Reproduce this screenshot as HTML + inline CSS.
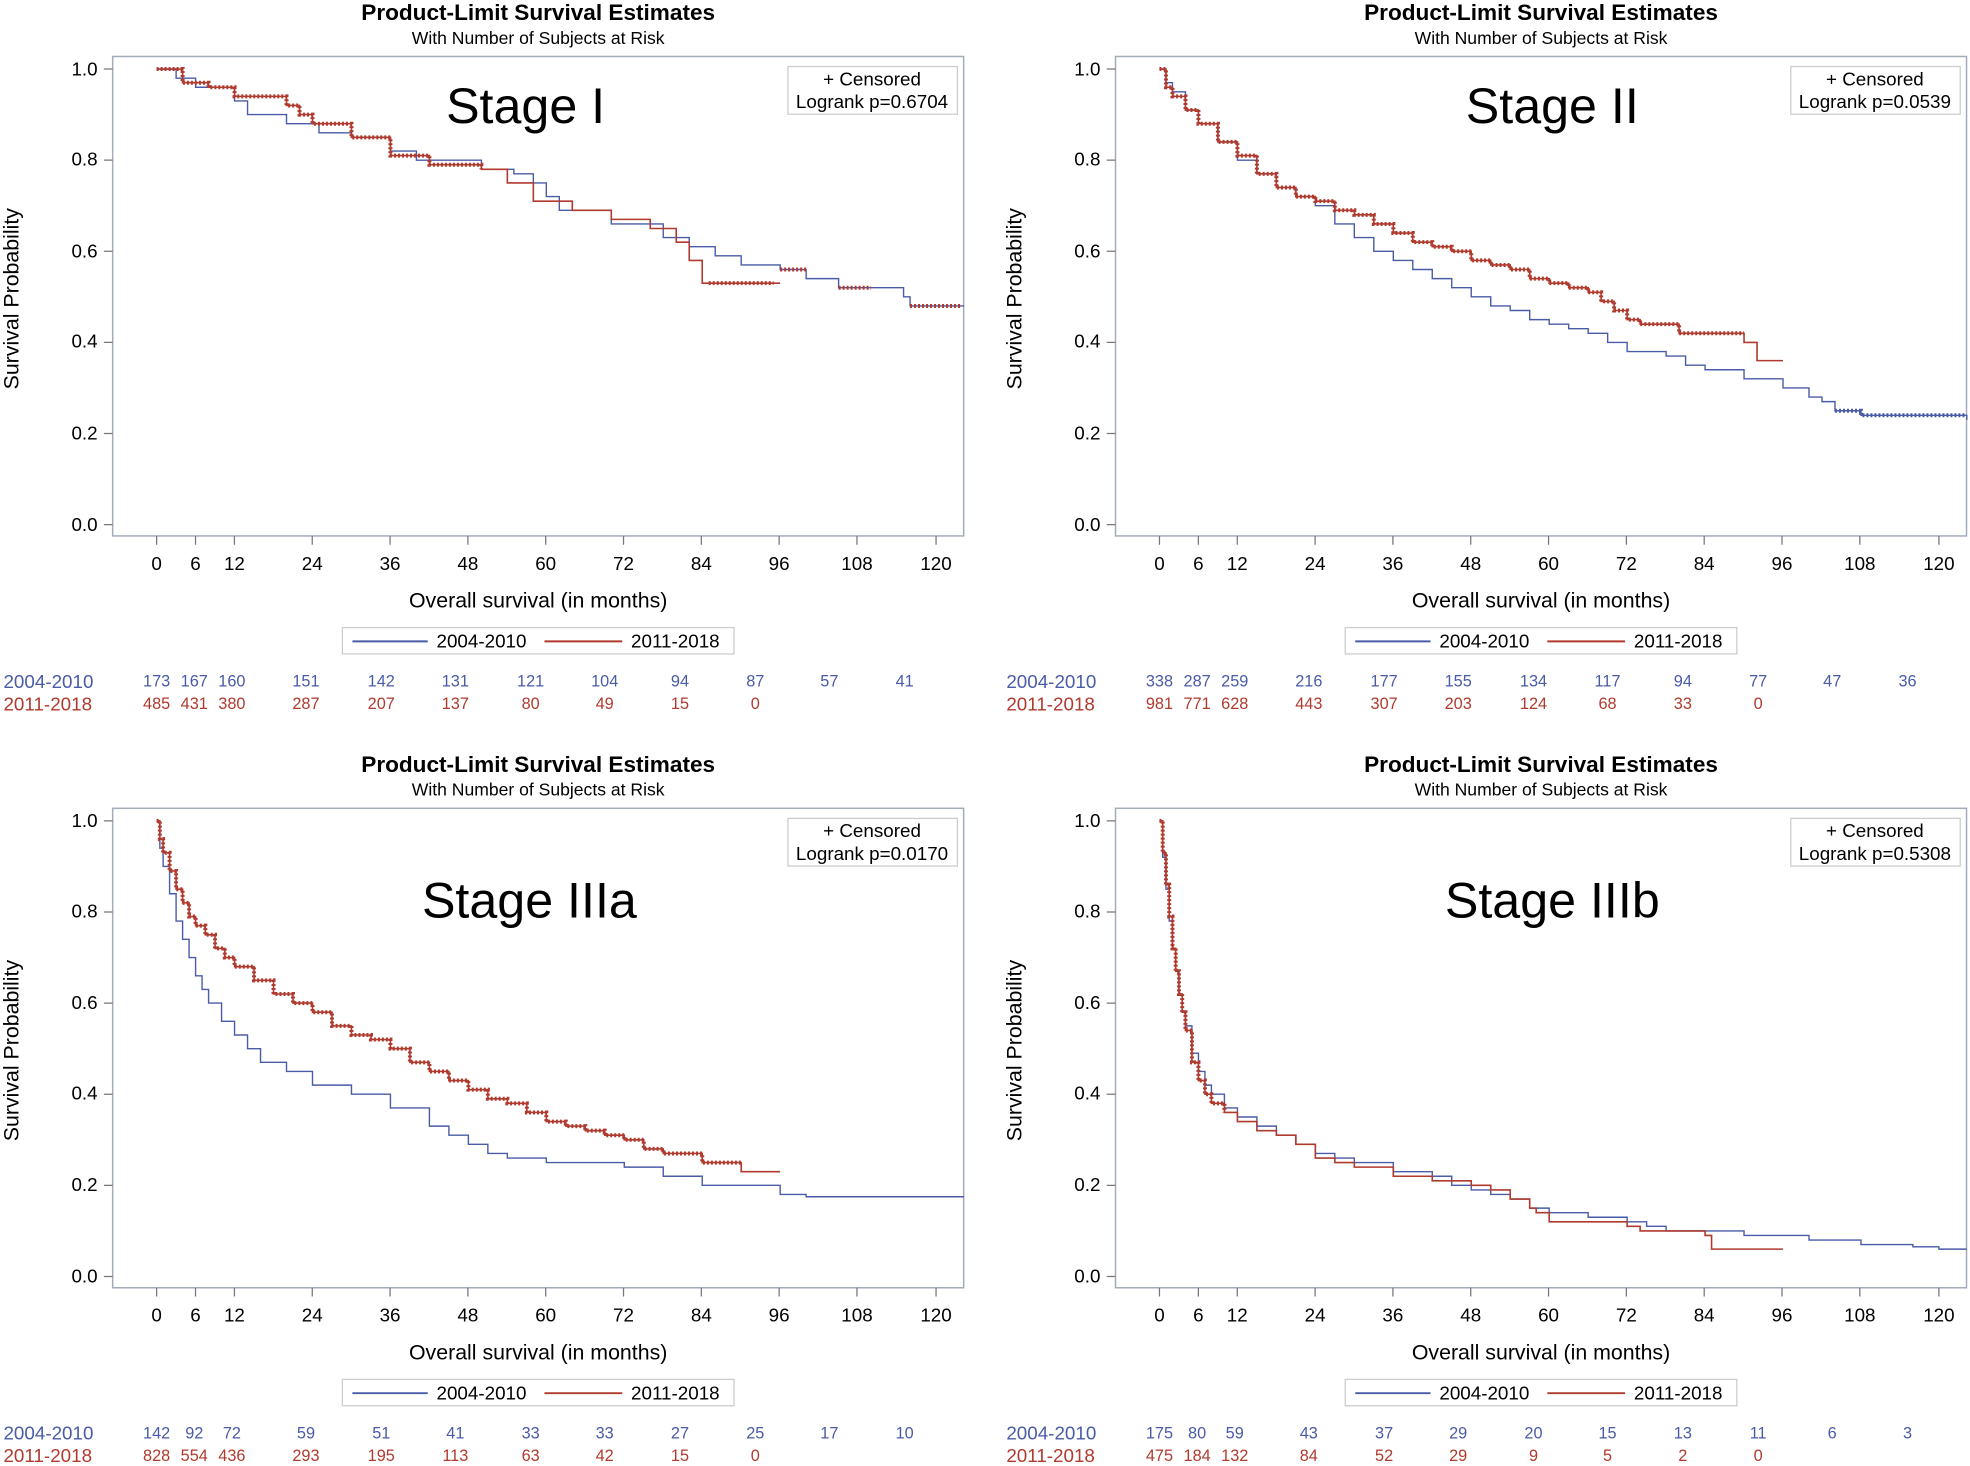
<!DOCTYPE html>
<html><head><meta charset="utf-8"><style>
html,body{margin:0;padding:0;background:#fff}
svg{display:block}
text{font-family:"Liberation Sans",Arial,sans-serif}
.t{font-size:18px;font-weight:bold;text-anchor:middle}
.st{font-size:14px;text-anchor:middle}
.yl{font-size:15px;text-anchor:end}
.xl{font-size:15px;text-anchor:middle}
.ax{font-size:17px;text-anchor:middle}
.stg{font-size:40px;text-anchor:middle}
.lg{font-size:15px;text-anchor:middle}
.lb{font-size:15px}
.rb{font-size:13px;fill:#4a5ba8;text-anchor:middle}
.rr{font-size:13px;fill:#b03a2e;text-anchor:middle}
.b{fill:none;stroke:#4a5ba8;stroke-width:1.4;vector-effect:non-scaling-stroke}
.r{fill:none;stroke:#b03a2e;stroke-width:1.6;vector-effect:non-scaling-stroke}
.rd{fill:none;stroke:#b03a2e;stroke-width:4;stroke-dasharray:2 2;vector-effect:non-scaling-stroke}
</style></head><body>
<svg width="1970" height="1466" viewBox="0 0 1568 1168" xmlns="http://www.w3.org/2000/svg">
<defs>
<g id="frame">
<text class="t" x="428" y="16">Product-Limit Survival Estimates</text>
<text class="st" x="428" y="35">With Number of Subjects at Risk</text>
<rect x="89" y="45" width="678" height="382" fill="none" stroke="#a4acbc" stroke-width="1.2"/>
<g stroke="#777" stroke-width="1">
<path d="M82 55H89M82 127.6H89M82 200.2H89M82 272.8H89M82 345.4H89M82 418H89"/>
<path d="M124 427V434M155 427V434M186 427V434M248 427V434M310 427V434M372 427V434M434 427V434M496 427V434M558 427V434M620 427V434M682 427V434M745 427V434"/>
</g>
<text class="yl" x="77" y="60">1.0</text><text class="yl" x="77" y="132">0.8</text><text class="yl" x="77" y="205">0.6</text><text class="yl" x="77" y="277">0.4</text><text class="yl" x="77" y="350">0.2</text><text class="yl" x="77" y="423">0.0</text>
<text class="xl" x="124" y="454">0</text><text class="xl" x="155" y="454">6</text><text class="xl" x="186" y="454">12</text><text class="xl" x="248" y="454">24</text><text class="xl" x="310" y="454">36</text><text class="xl" x="372" y="454">48</text><text class="xl" x="434" y="454">60</text><text class="xl" x="496" y="454">72</text><text class="xl" x="558" y="454">84</text><text class="xl" x="620" y="454">96</text><text class="xl" x="682" y="454">108</text><text class="xl" x="745" y="454">120</text>
<text class="ax" x="428" y="484">Overall survival (in months)</text>
<text class="ax" transform="translate(14,238) rotate(-90)">Survival Probability</text>
<rect x="627" y="53" width="135" height="38" fill="#fff" stroke="#ccc"/>
<text class="lg" x="694" y="68">+ Censored</text>
<rect x="272" y="500" width="312" height="21" fill="#fff" stroke="#ccc"/>
<path d="M280 511H340" stroke="#4a5ba8" stroke-width="1.5"/>
<path d="M433 511H495" stroke="#b03a2e" stroke-width="1.5"/>
<text class="lb" x="347" y="516">2004-2010</text><text class="lb" x="502" y="516">2011-2018</text>
<text class="lb" x="2" y="548" fill="#4a5ba8">2004-2010</text>
<text class="lb" x="2" y="566" fill="#b03a2e">2011-2018</text>
</g>
</defs>

<!-- Panel 1 -->
<g>
<use href="#frame"/>
<text class="stg" x="418" y="98">Stage I</text>
<text class="lg" x="694" y="86">Logrank p=0.6704</text>
<g transform="translate(124,418) scale(5.175,-363)">
<path class="b" d="M0 1H3V0.98H6V0.96H12V0.93H14V0.9H20V0.88H25V0.86H30V0.85H36V0.82H40V0.8H50V0.78H55V0.77H58V0.75H60V0.72H62V0.69H70V0.66H78V0.63H82V0.61H86V0.59H90V0.57H96V0.56H100V0.54H105V0.52H115V0.5H116V0.48H124.3"/>
<path class="r" d="M0 1H4V0.97H8V0.96H12V0.94H20V0.92H22V0.9H24V0.88H30V0.85H36V0.81H42V0.79H50V0.78H54V0.75H58V0.71H64V0.69H70V0.67H76V0.65H80V0.62H82V0.58H84V0.53H96"/>
<path class="rd" d="M0 1H4V0.97H8V0.96H12V0.94H20V0.92H22V0.9H24V0.88H30V0.85H36V0.81H42V0.79H50V0.78"/>
<path class="rd" d="M85 0.53H95"/>
<path class="rd" d="M96 0.56H100M105 0.52H110M116 0.48H124"/>
</g>
<text class="rb" x="124" y="547">173</text><text class="rb" x="154" y="547">167</text><text class="rb" x="184" y="547">160</text><text class="rb" x="243" y="547">151</text><text class="rb" x="303" y="547">142</text><text class="rb" x="362" y="547">131</text><text class="rb" x="422" y="547">121</text><text class="rb" x="481" y="547">104</text><text class="rb" x="541" y="547">94</text><text class="rb" x="601" y="547">87</text><text class="rb" x="660" y="547">57</text><text class="rb" x="720" y="547">41</text>
<text class="rr" x="124" y="565">485</text><text class="rr" x="154" y="565">431</text><text class="rr" x="184" y="565">380</text><text class="rr" x="243" y="565">287</text><text class="rr" x="303" y="565">207</text><text class="rr" x="362" y="565">137</text><text class="rr" x="422" y="565">80</text><text class="rr" x="481" y="565">49</text><text class="rr" x="541" y="565">15</text><text class="rr" x="601" y="565">0</text>
</g>

<!-- Panel 2 -->
<g transform="translate(799,0)">
<use href="#frame"/>
<text class="stg" x="437" y="98">Stage II</text>
<text class="lg" x="694" y="86">Logrank p=0.0539</text>
<g transform="translate(124,418) scale(5.175,-363)">
<path class="b" d="M0 1H1V0.97H2V0.95H4V0.91H6V0.88H9V0.84H12V0.8H15V0.77H18V0.74H21V0.72H24V0.7H27V0.66H30V0.63H33V0.6H36V0.58H39V0.56H42V0.54H45V0.52H48V0.5H51V0.48H54V0.47H57V0.45H60V0.44H63V0.43H66V0.42H69V0.4H72V0.38H78V0.37H81V0.35H84V0.34H90V0.32H96V0.3H100V0.28H102V0.27H104V0.25H108V0.24H124.3V0.23"/>
<path class="r" d="M0 1H1V0.96H2V0.94H4V0.91H6V0.88H9V0.84H12V0.81H15V0.77H18V0.74H21V0.72H24V0.71H27V0.69H30V0.68H33V0.66H36V0.64H39V0.62H42V0.61H45V0.6H48V0.58H51V0.57H54V0.56H57V0.54H60V0.53H63V0.52H66V0.51H68V0.49H70V0.47H72V0.45H74V0.44H80V0.42H90V0.4H92V0.36H96"/>
<path class="rd" d="M0 1H1V0.96H2V0.94H4V0.91H6V0.88H9V0.84H12V0.81H15V0.77H18V0.74H21V0.72H24V0.71H27V0.69H30V0.68H33V0.66H36V0.64H39V0.62H42V0.61H45V0.6H48V0.58H51V0.57H54V0.56H57V0.54H60V0.53H63V0.52H66V0.51H68V0.49H70V0.47H72V0.45H74V0.44H80V0.42H90"/>
<path class="rd" d="M104 0.25H108V0.24H124" style="stroke:#4a5ba8"/>
</g>
<text class="rb" x="124" y="547">338</text><text class="rb" x="154" y="547">287</text><text class="rb" x="184" y="547">259</text><text class="rb" x="243" y="547">216</text><text class="rb" x="303" y="547">177</text><text class="rb" x="362" y="547">155</text><text class="rb" x="422" y="547">134</text><text class="rb" x="481" y="547">117</text><text class="rb" x="541" y="547">94</text><text class="rb" x="601" y="547">77</text><text class="rb" x="660" y="547">47</text><text class="rb" x="720" y="547">36</text>
<text class="rr" x="124" y="565">981</text><text class="rr" x="154" y="565">771</text><text class="rr" x="184" y="565">628</text><text class="rr" x="243" y="565">443</text><text class="rr" x="303" y="565">307</text><text class="rr" x="362" y="565">203</text><text class="rr" x="422" y="565">124</text><text class="rr" x="481" y="565">68</text><text class="rr" x="541" y="565">33</text><text class="rr" x="601" y="565">0</text>
</g>

<!-- Panel 3 -->
<g transform="translate(0,599)">
<use href="#frame"/>
<text class="stg" x="421" y="132">Stage IIIa</text>
<text class="lg" x="694" y="86">Logrank p=0.0170</text>
<g transform="translate(124,418) scale(5.175,-363)">
<path class="b" d="M0 1H0.5V0.94H1V0.9H2V0.84H3V0.78H4V0.74H5V0.7H6V0.66H7V0.63H8V0.6H10V0.56H12V0.53H14V0.5H16V0.47H20V0.45H24V0.42H30V0.4H36V0.37H42V0.33H45V0.31H48V0.29H51V0.27H54V0.26H60V0.25H72V0.24H78V0.22H84V0.2H96V0.18H100V0.175H124.3"/>
<path class="r" d="M0 1H0.5V0.96H1V0.93H2V0.89H3V0.85H4V0.82H5V0.79H6V0.77H7.5V0.75H9V0.72H10.5V0.7H12V0.68H15V0.65H18V0.62H21V0.6H24V0.58H27V0.55H30V0.53H33V0.52H36V0.5H39V0.47H42V0.45H45V0.43H48V0.41H51V0.39H54V0.38H57V0.36H60V0.34H63V0.33H66V0.32H69V0.31H72V0.3H75V0.28H78V0.27H84V0.25H90V0.23H96"/>
<path class="rd" d="M0 1H0.5V0.96H1V0.93H2V0.89H3V0.85H4V0.82H5V0.79H6V0.77H7.5V0.75H9V0.72H10.5V0.7H12V0.68H15V0.65H18V0.62H21V0.6H24V0.58H27V0.55H30V0.53H33V0.52H36V0.5H39V0.47H42V0.45H45V0.43H48V0.41H51V0.39H54V0.38H57V0.36H60V0.34H63V0.33H66V0.32H69V0.31H72V0.3H75V0.28H78V0.27H84V0.25H90"/>
</g>
<text class="rb" x="124" y="547">142</text><text class="rb" x="154" y="547">92</text><text class="rb" x="184" y="547">72</text><text class="rb" x="243" y="547">59</text><text class="rb" x="303" y="547">51</text><text class="rb" x="362" y="547">41</text><text class="rb" x="422" y="547">33</text><text class="rb" x="481" y="547">33</text><text class="rb" x="541" y="547">27</text><text class="rb" x="601" y="547">25</text><text class="rb" x="660" y="547">17</text><text class="rb" x="720" y="547">10</text>
<text class="rr" x="124" y="565">828</text><text class="rr" x="154" y="565">554</text><text class="rr" x="184" y="565">436</text><text class="rr" x="243" y="565">293</text><text class="rr" x="303" y="565">195</text><text class="rr" x="362" y="565">113</text><text class="rr" x="422" y="565">63</text><text class="rr" x="481" y="565">42</text><text class="rr" x="541" y="565">15</text><text class="rr" x="601" y="565">0</text>
</g>

<!-- Panel 4 -->
<g transform="translate(799,599)">
<use href="#frame"/>
<text class="stg" x="437" y="132">Stage IIIb</text>
<text class="lg" x="694" y="86">Logrank p=0.5308</text>
<g transform="translate(124,418) scale(5.175,-363)">
<path class="b" d="M0 1H0.5V0.92H1V0.85H1.5V0.78H2V0.72H2.5V0.67H3V0.62H3.5V0.58H4V0.55H5V0.49H6V0.45H7V0.42H8V0.4H10V0.37H12V0.35H15V0.33H18V0.31H21V0.29H24V0.27H27V0.26H30V0.25H36V0.23H42V0.22H45V0.2H48V0.19H51V0.18H54V0.17H57V0.15H60V0.14H66V0.13H72V0.12H75V0.11H78V0.1H90V0.09H100V0.08H108V0.07H116V0.065H120V0.06H124.3"/>
<path class="r" d="M0 1H0.5V0.93H1V0.86H1.5V0.79H2V0.72H2.5V0.67H3V0.62H3.5V0.58H4V0.54H5V0.47H6V0.43H7V0.4H8V0.38H10V0.36H12V0.34H15V0.32H18V0.31H21V0.29H24V0.26H27V0.25H30V0.24H36V0.22H42V0.21H48V0.2H51V0.19H54V0.17H57V0.15H58V0.14H60V0.12H72V0.11H74V0.1H84V0.09H85V0.06H96"/>
<path class="rd" d="M0 1H0.5V0.93H1V0.86H1.5V0.79H2V0.72H2.5V0.67H3V0.62H3.5V0.58H4V0.54H5V0.47H6V0.43H7V0.4H8V0.38H10V0.36"/>
</g>
<text class="rb" x="124" y="547">175</text><text class="rb" x="154" y="547">80</text><text class="rb" x="184" y="547">59</text><text class="rb" x="243" y="547">43</text><text class="rb" x="303" y="547">37</text><text class="rb" x="362" y="547">29</text><text class="rb" x="422" y="547">20</text><text class="rb" x="481" y="547">15</text><text class="rb" x="541" y="547">13</text><text class="rb" x="601" y="547">11</text><text class="rb" x="660" y="547">6</text><text class="rb" x="720" y="547">3</text>
<text class="rr" x="124" y="565">475</text><text class="rr" x="154" y="565">184</text><text class="rr" x="184" y="565">132</text><text class="rr" x="243" y="565">84</text><text class="rr" x="303" y="565">52</text><text class="rr" x="362" y="565">29</text><text class="rr" x="422" y="565">9</text><text class="rr" x="481" y="565">5</text><text class="rr" x="541" y="565">2</text><text class="rr" x="601" y="565">0</text>
</g>
</svg>
</body></html>
